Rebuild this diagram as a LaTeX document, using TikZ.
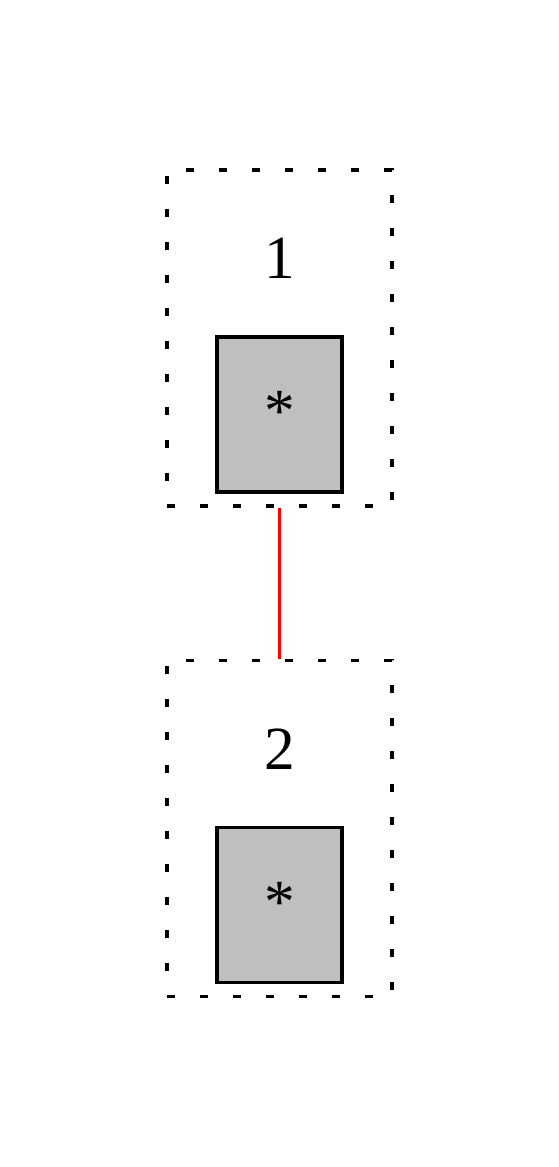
\documentclass[tikz,border=0pt]{standalone}
\usepackage{fontspec}
\setmainfont{Liberation Serif}
\usepackage{tikz}
\usetikzlibrary{positioning}

\begin{document}
\begin{tikzpicture}[-,
thin,
group/.style={draw, line width=2.6pt, dash pattern=on 6pt off 18.75pt, rectangle, minimum width=168.75pt, minimum height=252pt, inner sep=0pt},
cell/.style={draw, fill=lightgray, line width=2.6pt, rectangle, minimum width=93.75pt, minimum height=116.25pt, inner sep=0pt},
tag/.style={draw=none, fill=none, font=\fontsize{46}{52}\selectfont}]

\useasboundingbox (0pt,0pt) rectangle (419.25pt,875.25pt);

\node[group]			(g1) at (209.6pt,621.75pt)	{};
\node[cell, above=10.5pt of g1.south, anchor=south]	(c1)	{};
\node[tag]			(s1) at ([yshift=2pt]c1.center)	{*};
\node[tag]			(t1) at ([yshift=-67.5pt]g1.north)	{1};

\node[group]			(g2) at (209.6pt,253.9pt)	{};
\node[cell, above=10.5pt of g2.south, anchor=south]	(c2)	{};
\node[tag]			(s2) at ([yshift=2pt]c2.center)	{*};
\node[tag]			(t2) at ([yshift=-67.5pt]g2.north)	{2};

\path[-]
 (g1.south) edge[red, line width=2.6pt] (g2.north);

\end{tikzpicture}
\end{document}
